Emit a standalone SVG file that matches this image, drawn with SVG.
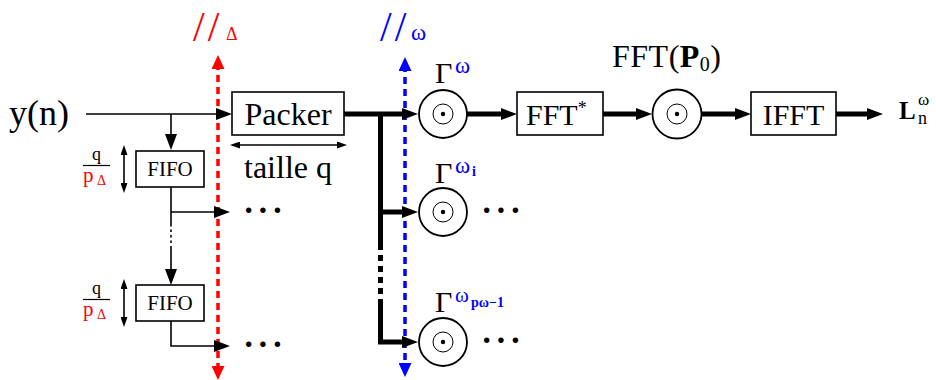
<svg xmlns="http://www.w3.org/2000/svg" width="936" height="380" viewBox="0 0 936 380">
<style>
text{font-family:"Liberation Serif","Times New Roman",serif;fill:#000}
.box{fill:#fff;stroke:#000;stroke-width:1.6}
.circ{fill:#fff;stroke:#000;stroke-width:1.8}
.inner{fill:none;stroke:#000;stroke-width:1}
.thin{fill:none;stroke:#000;stroke-width:1.6}
.thick{fill:none;stroke:#000;stroke-width:5}
.red{fill:#ff0000}
.blue{fill:#0000ff}
.lbl{font-size:32px;text-anchor:middle}
.fifo{font-size:21px;text-anchor:middle}
.dots{font-size:34px;font-weight:bold;letter-spacing:3px}
</style>
<defs>
<marker id="ah" viewBox="0 0 16 12" markerWidth="16" markerHeight="12" refX="8" refY="6" orient="auto" markerUnits="userSpaceOnUse"><path d="M0,0 L16,6 L0,12 z" fill="#000"/></marker>
<marker id="sh" viewBox="0 0 10 7" markerWidth="10" markerHeight="7" refX="5" refY="3.5" orient="auto-start-reverse" markerUnits="userSpaceOnUse"><path d="M0,0 L10,3.5 L0,7 z" fill="#000"/></marker>
<marker id="rh" viewBox="0 0 14 13" markerWidth="14" markerHeight="13" refX="6" refY="6.5" orient="auto-start-reverse" markerUnits="userSpaceOnUse"><path d="M0,0 L14,6.5 L0,13 z" fill="#ff0000"/></marker>
<marker id="bh" viewBox="0 0 14 13" markerWidth="14" markerHeight="13" refX="6" refY="6.5" orient="auto-start-reverse" markerUnits="userSpaceOnUse"><path d="M0,0 L14,6.5 L0,13 z" fill="#0000ff"/></marker>
</defs>

<g id="parallel-lines">
<path d="M218,63 V372" fill="none" stroke="#ff0000" stroke-width="3.5" stroke-dasharray="7 5" marker-start="url(#rh)" marker-end="url(#rh)"/>
<path d="M405,65 V369" fill="none" stroke="#0000ff" stroke-width="3.5" stroke-dasharray="7 5" marker-start="url(#bh)" marker-end="url(#bh)"/>
<text x="193" y="41" class="red" style="font-size:42px;letter-spacing:3px">//</text>
<text x="226" y="40" class="red" style="font-size:18px">Δ</text>
<text x="380" y="41" class="blue" style="font-size:42px;letter-spacing:3px">//</text>
<text x="411" y="40" class="blue" style="font-size:23px">ω</text>
</g>

<g id="connectors">
<path class="thin" d="M86,114 H224" marker-end="url(#ah)"/>
<path class="thin" d="M171,114 V142" marker-end="url(#ah)"/>
<path class="thin" d="M235,145 H342" marker-start="url(#sh)" marker-end="url(#sh)"/>
<path class="thin" d="M124,150 V188" marker-start="url(#sh)" marker-end="url(#sh)"/>
<path class="thin" d="M124,284 V322" marker-start="url(#sh)" marker-end="url(#sh)"/>
<path class="thin" d="M171,187 V224"/>
<path class="thin" d="M171,224 V248" stroke-dasharray="2.5 3"/>
<path class="thin" d="M171,248 V277" marker-end="url(#ah)"/>
<path class="thin" d="M171,212 H222" marker-end="url(#ah)"/>
<path class="thin" d="M171,321 V346 H222" marker-end="url(#ah)"/>
<path class="thick" d="M344,114 H410" marker-end="url(#ah)"/>
<path class="thick" d="M380.5,114 V250"/>
<path class="thick" d="M380.5,255 V304" stroke-dasharray="6 5"/>
<path class="thick" d="M380.5,304 V342 H410" marker-end="url(#ah)"/>
<path class="thick" d="M380.5,212 H410" marker-end="url(#ah)"/>
<path class="thick" d="M467,114 H509" marker-end="url(#ah)"/>
<path class="thick" d="M603,114 H644" marker-end="url(#ah)"/>
<path class="thick" d="M701,114 H743" marker-end="url(#ah)"/>
<path class="thick" d="M836,114 H875" marker-end="url(#ah)"/>
</g>

<g id="input">
<text x="9" y="125" style="font-size:36px">y(n)</text>
</g>

<g id="packer">
<rect class="box" x="232" y="92" width="112" height="43"/>
<text class="lbl" x="288" y="125">Packer</text>
<text class="lbl" x="288" y="178">taille q</text>
</g>

<g id="fifo1">
<rect class="box" x="136" y="151" width="68" height="36"/>
<text class="fifo" x="170" y="176">FIFO</text>
<text x="96.5" y="160" style="font-size:18px;text-anchor:middle">q</text>
<line x1="83" y1="165.5" x2="110" y2="165.5" stroke="#000" stroke-width="1.2"/>
<text x="83" y="182" class="red" style="font-size:21px">p</text>
<text x="97" y="185" class="red" style="font-size:14px">Δ</text>
</g>
<g id="out1"><text class="dots" x="243" y="221">···</text></g>

<g id="fifo2">
<rect class="box" x="136" y="285" width="68" height="36"/>
<text class="fifo" x="170" y="310">FIFO</text>
<text x="96.5" y="294" style="font-size:18px;text-anchor:middle">q</text>
<line x1="83" y1="299.5" x2="110" y2="299.5" stroke="#000" stroke-width="1.2"/>
<text x="83" y="316" class="red" style="font-size:21px">p</text>
<text x="97" y="319" class="red" style="font-size:14px">Δ</text>
</g>
<g id="out2"><text class="dots" x="243" y="355">···</text></g>

<g id="mult1">
<circle class="circ" cx="443" cy="114" r="24"/>
<circle class="inner" cx="443" cy="114" r="10"/>
<circle cx="443" cy="114" r="2.2" fill="#000"/>
<text x="435" y="83" style="font-size:30px">Γ</text>
<text x="455" y="73" class="blue" style="font-size:23px">ω</text>
</g>

<g id="mult2">
<circle class="circ" cx="443" cy="212" r="24"/>
<circle class="inner" cx="443" cy="212" r="10"/>
<circle cx="443" cy="212" r="2.2" fill="#000"/>
<text x="435" y="183" style="font-size:30px">Γ</text>
<text x="455" y="173" class="blue" style="font-size:23px">ω</text>
<text x="472" y="176" class="blue" style="font-size:14px;font-weight:bold">i</text>
<text class="dots" x="481" y="221">···</text>
</g>

<g id="mult3">
<circle class="circ" cx="443" cy="342" r="24"/>
<circle class="inner" cx="443" cy="342" r="10"/>
<circle cx="443" cy="342" r="2.2" fill="#000"/>
<text x="435" y="312" style="font-size:30px">Γ</text>
<text x="455" y="302" class="blue" style="font-size:21px">ω</text>
<text x="471" y="307" class="blue" style="font-size:14px;font-weight:bold">pω−1</text>
<text class="dots" x="481" y="351">···</text>
</g>

<g id="fftconj">
<rect class="box" x="517" y="92" width="86" height="43"/>
<text x="526" y="125" style="font-size:30px">FFT<tspan dy="-11" style="font-size:18px">*</tspan></text>
</g>

<g id="mult-main">
<circle class="circ" cx="677" cy="114" r="24.5"/>
<circle class="inner" cx="677" cy="114" r="10"/>
<circle cx="677" cy="114" r="2.2" fill="#000"/>
<text x="612" y="67" style="font-size:32px;letter-spacing:0.5px">FFT(<tspan font-weight="bold">P</tspan><tspan dy="4" style="font-size:20px">0</tspan><tspan dy="-4">)</tspan></text>
</g>

<g id="ifft">
<rect class="box" x="751" y="92" width="85" height="43"/>
<text class="lbl" x="793.5" y="125" style="font-size:30px">IFFT</text>
</g>

<g id="output">
<text x="899" y="119" style="font-size:25px;font-weight:bold">L</text>
<text x="918" y="105" style="font-size:17px">ω</text>
<text x="918" y="124" style="font-size:18px">n</text>
</g>
</svg>
